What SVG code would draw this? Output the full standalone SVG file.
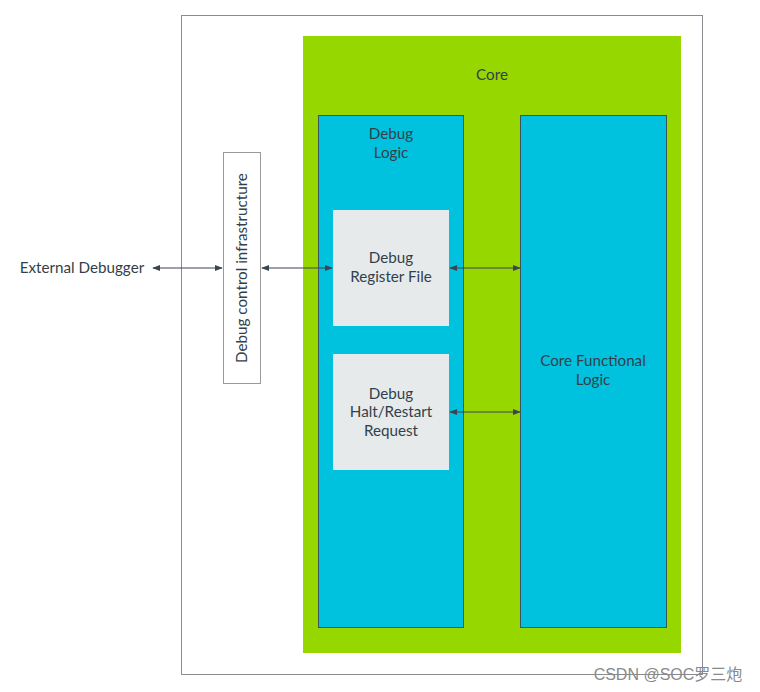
<svg xmlns="http://www.w3.org/2000/svg" width="760" height="692" viewBox="0 0 760 692">
<style>
.t{font-family:Lato,"Noto Sans",sans-serif;font-size:15.2px;fill:#333f4a;text-anchor:middle}
.blue{fill:#00c1de;stroke:#3c5660;stroke-width:1}
.gray{fill:#e6eaea}
.ln{stroke:#3a4550;stroke-width:1;fill:none;marker-start:url(#a);marker-end:url(#a)}
</style>
<defs>
<marker id="a" viewBox="0 0 10 10" refX="9" refY="5" markerWidth="8" markerHeight="8" orient="auto-start-reverse" markerUnits="userSpaceOnUse">
<path d="M0,1 L10,5 L0,9 Z" fill="#3a4550"/>
</marker>
</defs>
<rect width="760" height="692" fill="#fff"/>
<g id="outer"><rect x="181.5" y="15.5" width="521" height="659" fill="none" stroke="#8a8a90" stroke-width="1"/></g>
<g id="core"><rect x="303" y="36" width="378" height="617" fill="#97d700"/><text class="t" x="492" y="80">Core</text></g>
<g id="debug-logic"><rect class="blue" x="318.5" y="115.5" width="145" height="512"/><text class="t" x="391" y="139">Debug</text><text class="t" x="391" y="158">Logic</text></g>
<g id="core-functional"><rect class="blue" x="520.5" y="115.5" width="146" height="512"/><text class="t" x="593" y="366">Core Functional</text><text class="t" x="593" y="385">Logic</text></g>
<g id="debug-register-file"><rect class="gray" x="333" y="210" width="116" height="116"/><text class="t" x="391" y="263">Debug</text><text class="t" x="391" y="282">Register File</text></g>
<g id="halt-restart"><rect class="gray" x="333" y="354" width="116" height="116"/><text class="t" x="391" y="399">Debug</text><text class="t" x="391" y="417">Halt/Restart</text><text class="t" x="391" y="436">Request</text></g>
<g id="debug-control"><rect x="223.5" y="152.5" width="37" height="231" fill="#fff" stroke="#9a9a9a" stroke-width="1"/><text class="t" transform="translate(247,268) rotate(-90)">Debug control infrastructure</text></g>
<g id="external-debugger"><text class="t" x="82" y="273">External Debugger</text></g>
<g id="connectors">
<line class="ln" x1="153" y1="268" x2="222" y2="268"/>
<line class="ln" x1="262" y1="268" x2="332" y2="268"/>
<line class="ln" x1="450" y1="268" x2="520" y2="268"/>
<line class="ln" x1="450" y1="412" x2="520" y2="412"/>
</g>
<text x="668" y="680" style="font-family:'Liberation Sans','Noto Sans CJK SC',sans-serif;font-size:16px;fill:#8a8a8a;text-anchor:middle">CSDN @SOC罗三炮</text>
</svg>
